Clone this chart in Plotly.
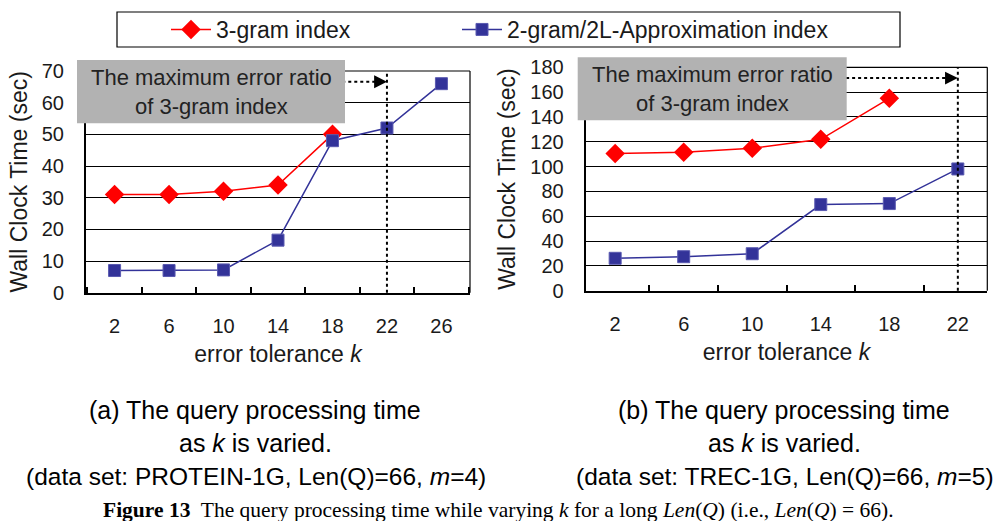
import plotly.graph_objects as go

# ---------------- data ----------------
K_A = [2, 6, 10, 14, 18, 22, 26]
GRAM3_A = [31, 31, 32, 34, 50, None, None]
GRAM2_A = [7, 7, 7.2, 16.6, 48, 52, 66]

K_B = [2, 6, 10, 14, 18, 22]
GRAM3_B = [110.5, 111.6, 114.8, 122, 155, None]
GRAM2_B = [26.1, 27.4, 29.8, 69.4, 70.2, 98.1]

SERIES_NAMES = ["3-gram index", "2-gram/2L-Approximation index"]
Y_TICKS_A = list(range(0, 71, 10))
Y_TICKS_B = list(range(0, 181, 20))
MAX_ERROR_K = 22
ARROW_Y_A = 66.6
ARROW_Y_B = 171.3

W, H = 997, 521
FONT = "Liberation Sans, Arial, sans-serif"
RED = "#ff0000"
BLUE = "#333399"
TXT = "#1a1a1a"


def px(x):
    return x / W


def py(y):
    return 1 - y / H


fig = go.Figure()

for (k, g3, g2, xa, ya, show) in [
    (K_A, GRAM3_A, GRAM2_A, "x", "y", True),
    (K_B, GRAM3_B, GRAM2_B, "x2", "y2", False),
]:
    cats = [str(v) for v in k]
    fig.add_trace(go.Scatter(
        x=cats, y=g3, name=SERIES_NAMES[0], mode="lines+markers",
        line=dict(color=RED, width=1.5),
        marker=dict(symbol="diamond", size=15, color=RED),
        xaxis=xa, yaxis=ya, showlegend=show, legendgroup="a", legend="legend"))
    fig.add_trace(go.Scatter(
        x=cats, y=g2, name=SERIES_NAMES[1], mode="lines+markers",
        line=dict(color=BLUE, width=1.5),
        marker=dict(symbol="square", size=12, color=BLUE,
                    line=dict(color="#5a5ab0", width=1)),
        xaxis=xa, yaxis=ya, showlegend=show, legendgroup="b", legend="legend2"))

tickfont = dict(family=FONT, size=20, color=TXT)
titlefont = dict(family=FONT, size=23, color=TXT)


def xaxis_cfg(dom, cats):
    return dict(
        domain=dom, type="category", categoryorder="array", categoryarray=cats,
        tickson="boundaries", ticks="inside", ticklen=6, tickwidth=1.5, tickcolor="black",
        showline=True, linecolor="black", linewidth=2, showgrid=False,
        zeroline=False, tickfont=tickfont, ticklabelstandoff=14,
        title=dict(text="error tolerance <i>k</i>", font=titlefont, standoff=10),
        automargin=False, fixedrange=True)


def yaxis_cfg(dom, ticks, anchor):
    return dict(
        domain=dom, range=[ticks[0], ticks[-1]], tickvals=ticks,
        showgrid=True, gridcolor="black", gridwidth=1,
        showline=True, linecolor="black", linewidth=2, ticks="",
        zeroline=False, tickfont=tickfont, ticklabelstandoff=16,
        title=dict(text="Wall Clock Time (sec)", font=titlefont, standoff=8),
        anchor=anchor, automargin=False, fixedrange=True)


legend_common = dict(orientation="h", y=py(29.5), yanchor="middle", xanchor="left",
                     font=dict(family=FONT, size=23, color=TXT),
                     bgcolor="rgba(0,0,0,0)", borderwidth=0, itemwidth=40)

fig.update_layout(
    width=W, height=H, template="none",
    margin=dict(l=0, r=0, t=0, b=0),
    paper_bgcolor="white", plot_bgcolor="white",
    xaxis=xaxis_cfg([px(86), px(470)], [str(v) for v in K_A]) | dict(anchor="y"),
    yaxis=yaxis_cfg([py(292.7), py(71)], Y_TICKS_A, "x"),
    xaxis2=xaxis_cfg([px(585.7), px(987.3)], [str(v) for v in K_B]) | dict(anchor="y2"),
    yaxis2=yaxis_cfg([py(290.7), py(67.3)], Y_TICKS_B, "x2"),
    showlegend=True,
    legend=legend_common | dict(x=px(166)),
    legend2=legend_common | dict(x=px(457)),
)

shapes = []
# legend frame
shapes.append(dict(type="rect", xref="paper", yref="paper",
                   x0=px(117), x1=px(900), y0=py(47), y1=py(12),
                   line=dict(color="black", width=1.2), fillcolor="rgba(0,0,0,0)"))

for xa, ya, k, arrow_y, x_start, box in [
    ("x", "y", K_A, ARROW_Y_A, 4.18, (77, 345, 60, 123.3)),
    ("x2", "y2", K_B, ARROW_Y_B, 3.37, (577.7, 846.7, 57.3, 120.3)),
]:
    # top & right border
    shapes.append(dict(type="line", xref=f"{xa} domain", yref=f"{ya} domain",
                       x0=0, x1=1, y0=1, y1=1, line=dict(color="black", width=1.2)))
    shapes.append(dict(type="line", xref=f"{xa} domain", yref=f"{ya} domain",
                       x0=1, x1=1, y0=0, y1=1, line=dict(color="black", width=1.2)))
    idx = k.index(MAX_ERROR_K)
    # vertical dotted line
    shapes.append(dict(type="line", xref=xa, yref=f"{ya} domain",
                       x0=idx, x1=idx, y0=0, y1=1,
                       line=dict(color="black", width=2, dash="dot")))
    # horizontal dotted arrow shaft
    shapes.append(dict(type="line", xref=xa, yref=ya,
                       x0=x_start, x1=idx - 0.1, y0=arrow_y, y1=arrow_y,
                       line=dict(color="black", width=2, dash="dot")))
    # gray box
    x0, x1, y0, y1 = box
    shapes.append(dict(type="rect", xref="paper", yref="paper",
                       x0=px(x0), x1=px(x1), y0=py(y1), y1=py(y0),
                       line=dict(width=0), fillcolor="#b2b2b2", layer="above"))

fig.update_layout(shapes=shapes)

ann = []
for xa, ya, k, arrow_y, box in [
    ("x", "y", K_A, ARROW_Y_A, (77, 345, 60, 123.3)),
    ("x2", "y2", K_B, ARROW_Y_B, (577.7, 846.7, 57.3, 120.3)),
]:
    idx = k.index(MAX_ERROR_K)
    ann.append(dict(xref=xa, yref=ya, x=idx, y=arrow_y, text="", showarrow=True,
                    ax=-14, ay=0, arrowhead=2, arrowsize=1.6, arrowwidth=1.6,
                    arrowcolor="black", standoff=0))
    x0, x1, y0, y1 = box
    ann.append(dict(xref="paper", yref="paper", x=px((x0 + x1) / 2), y=py((y0 + y1) / 2),
                    xanchor="center", yanchor="middle", showarrow=False,
                    text="The maximum error ratio<br>of 3-gram index",
                    font=dict(family=FONT, size=22, color="#222222")))

captions = [
    (255, 410, 25, "(a) The query processing time"),
    (255, 443, 25, "as <i>k</i> is varied."),
    (256, 476, 24.5, "(data set: PROTEIN-1G, Len(Q)=66, <i>m</i>=4)"),
    (784, 410, 25, "(b) The query processing time"),
    (784, 443, 25, "as <i>k</i> is varied."),
    (785, 476, 24.5, "(data set: TREC-1G, Len(Q)=66, <i>m</i>=5)"),
]
for x, y, s, t in captions:
    ann.append(dict(xref="paper", yref="paper", x=px(x), y=py(y), xanchor="center",
                    yanchor="middle", showarrow=False, text=t,
                    font=dict(family=FONT, size=s, color="black")))
ann.append(dict(xref="paper", yref="paper", x=px(499), y=py(510), xanchor="center",
                yanchor="middle", showarrow=False,
                text="<b>Figure 13</b>  The query processing time while varying <i>k</i> for a long "
                     "<i>Len</i>(<i>Q</i>) (i.e., <i>Len</i>(<i>Q</i>) = 66).",
                font=dict(family="Liberation Serif, Times New Roman, serif", size=21.5, color="black")))
fig.update_layout(annotations=ann)

fig.write_html("out.html")
